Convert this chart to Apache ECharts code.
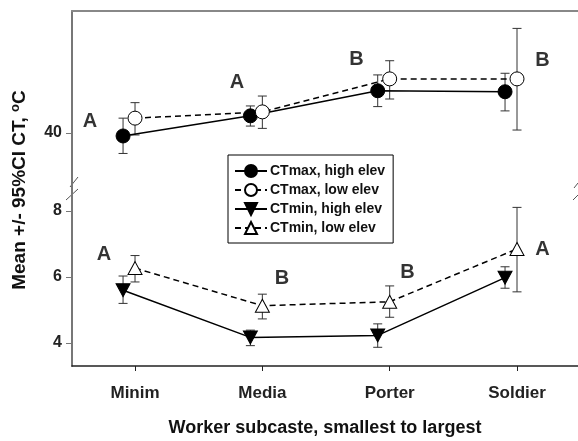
<!DOCTYPE html>
<html><head><meta charset="utf-8">
<script src="https://cdn.jsdelivr.net/npm/echarts@6/dist/echarts.min.js"></script>
<style>html,body{margin:0;padding:0;background:#fff}#c{width:578px;height:441px}</style>
</head><body><div id="c"></div>
<script>
var categories = ['Minim', 'Media', 'Porter', 'Soldier'];
var ctmaxHigh   = [39.91, 40.52, 41.28, 41.25];
var ctmaxHighLo = [39.38, 40.21, 40.80, 40.67];
var ctmaxHighHi = [40.45, 40.82, 41.76, 41.81];
var ctmaxLow    = [40.45, 40.64, 41.64, 41.64];
var ctmaxLowLo  = [39.94, 40.14, 41.03, 40.09];
var ctmaxLowHi  = [40.92, 41.12, 42.19, 43.17];
var ctminHigh   = [5.60, 4.17, 4.23, 5.98];
var ctminHighLo = [5.20, 3.92, 3.87, 5.66];
var ctminHighHi = [6.03, 4.39, 4.58, 6.31];
var ctminLow    = [6.27, 5.13, 5.25, 6.85];
var ctminLowLo  = [5.85, 4.73, 4.78, 5.55];
var ctminLowHi  = [6.65, 5.48, 5.73, 8.11];
var topLetters    = ['A', 'A', 'B', 'B'];
var bottomLetters = ['A', 'B', 'B', 'A'];
var topTicks = [40];
var bottomTicks = [4, 6, 8];

var names = ['CTmax, high elev', 'CTmax, low elev', 'CTmin, high elev', 'CTmin, low elev'];
var HIGH_OFF = -0.094;
var FONT = 'Liberation Sans, Arial, sans-serif';
var downTri = 'path://M0,0 L10,0 L5,9 Z';
var upTri = 'path://M5,0 L10,9 L0,9 Z';

// letter text positions (in data units)
var topLetterPos = [[-0.353, 40.36], [0.80, 41.52], [1.74, 42.24], [3.20, 42.21]];
var bottomLetterPos = [[-0.243, 6.67], [1.155, 5.97], [2.14, 6.15], [3.20, 6.82]];

function pts(vals, off) { return vals.map(function (v, i) { return [i + off, v]; }); }
function bars(lo, hi, off) { return lo.map(function (l, i) { return [i + off, l, hi[i]]; }); }

function errRender(params, api) {
  var x = api.value(0);
  var p1 = api.coord([x, api.value(1)]);
  var p2 = api.coord([x, api.value(2)]);
  var w = 4.5;
  var st = { stroke: '#333', lineWidth: 1, fill: null };
  return { type: 'group', children: [
    { type: 'line', shape: { x1: p1[0], y1: p1[1], x2: p2[0], y2: p2[1] }, style: st },
    { type: 'line', shape: { x1: p1[0] - w, y1: p1[1], x2: p1[0] + w, y2: p1[1] }, style: st },
    { type: 'line', shape: { x1: p2[0] - w, y1: p2[1], x2: p2[0] + w, y2: p2[1] }, style: st }
  ]};
}

function errSeries(lo, hi, off, gi) {
  return { type: 'custom', xAxisIndex: gi, yAxisIndex: gi, renderItem: errRender,
    data: bars(lo, hi, off), z: 2, silent: true, encode: { x: 0, y: [1, 2] } };
}

function lineSeries(name, vals, off, gi, symbol, size, filled, dashed) {
  return { type: 'line', name: name, xAxisIndex: gi, yAxisIndex: gi, data: pts(vals, off),
    symbol: symbol, symbolSize: size, showSymbol: true, z: 3,
    lineStyle: { color: '#000', width: 1.5, type: dashed ? [6, 4] : 'solid' },
    itemStyle: { color: filled ? '#000' : '#fff', borderColor: '#000', borderWidth: 1, opacity: 1 },
    emphasis: { disabled: true }, animation: false };
}

function letterSeries(letters, pos, gi) {
  return { type: 'scatter', xAxisIndex: gi, yAxisIndex: gi, symbolSize: 0, silent: true,
    data: letters.map(function (t, i) { return { value: pos[i], name: t }; }),
    label: { show: true, position: 'inside', formatter: '{b}', color: '#000',
      fontFamily: FONT, fontWeight: 'bold', fontSize: 20 } };
}

var xMin = -0.495, xMax = 3.479;
var axisGray = '#777';

var chart = echarts.init(document.getElementById('c'), null, { renderer: 'canvas' });
chart.setOption({
  backgroundColor: '#fff',
  animation: false,
  grid: [
    { left: 72, right: 0, top: 11, height: 175 },
    { left: 72, right: 0, top: 186, height: 180 }
  ],
  xAxis: [
    { type: 'value', gridIndex: 0, min: xMin, max: xMax, position: 'top',
      axisLine: { show: true, onZero: false, lineStyle: { color: '#888', width: 2 } },
      axisTick: { show: false }, axisLabel: { show: false }, splitLine: { show: false } },
    { type: 'value', gridIndex: 1, min: xMin, max: xMax, position: 'bottom',
      axisLine: { show: true, onZero: false, lineStyle: { color: '#222', width: 1.5 } },
      axisTick: { show: true, customValues: [0, 1, 2, 3], length: 5, lineStyle: { color: '#222' } },
      axisLabel: { show: true, customValues: [0, 1, 2, 3], margin: 19,
        formatter: function (v) { return categories[Math.round(v)]; },
        color: '#222', fontFamily: FONT, fontWeight: 'bold', fontSize: 17 },
      splitLine: { show: false },
      name: 'Worker subcaste, smallest to largest', nameLocation: 'middle', nameGap: 53,
      nameTextStyle: { color: '#111', fontFamily: FONT, fontWeight: 'bold', fontSize: 18 } }
  ],
  yAxis: [
    { type: 'value', gridIndex: 0, min: 38.394, max: 43.697,
      axisLine: { show: true, onZero: false, lineStyle: { color: axisGray, width: 2 } },
      axisTick: { show: true, customValues: topTicks, length: 6, lineStyle: { color: axisGray } },
      axisLabel: { show: true, customValues: topTicks, margin: 10, color: '#222',
        fontFamily: FONT, fontWeight: 'bold', fontSize: 16 },
      splitLine: { show: false } },
    { type: 'value', gridIndex: 1, min: 3.303, max: 8.758,
      axisLine: { show: true, onZero: false, lineStyle: { color: axisGray, width: 2 } },
      axisTick: { show: true, customValues: bottomTicks, length: 6, lineStyle: { color: axisGray } },
      axisLabel: { show: true, customValues: bottomTicks, margin: 10, color: '#222',
        fontFamily: FONT, fontWeight: 'bold', fontSize: 16 },
      splitLine: { show: false } }
  ],
  legend: {
    left: 228, top: 155, orient: 'vertical', padding: [9, 8, 8, 6], itemGap: 5,
    itemWidth: 32, itemHeight: 15, borderColor: '#000', borderWidth: 1, backgroundColor: '#fff',
    data: names, selectedMode: false, z: 10,
    textStyle: { color: '#111', fontFamily: FONT, fontWeight: 'bold', fontSize: 14, padding: [0, 0, 0, -2] }
  },
  graphic: [
    { type: 'text', x: 20, y: 190, rotation: Math.PI / 2, z: 10,
      style: { text: 'Mean +/- 95%CI CT, {sup|o}C', fill: '#111', fontFamily: FONT,
        fontWeight: 'bold', fontSize: 19, align: 'center', verticalAlign: 'middle',
        rich: { sup: { fontSize: 13, fontWeight: 'bold', fontFamily: FONT, fill: '#111', padding: [0, 0, 10, 0] } } } },
    { type: 'line', shape: { x1: 70, y1: 187, x2: 78, y2: 177 }, style: { stroke: '#555', lineWidth: 1 } },
    { type: 'line', shape: { x1: 66, y1: 200, x2: 78, y2: 189 }, style: { stroke: '#555', lineWidth: 1 } },
    { type: 'line', shape: { x1: 574, y1: 188, x2: 578, y2: 183 }, style: { stroke: '#555', lineWidth: 1 } },
    { type: 'line', shape: { x1: 573, y1: 200, x2: 578, y2: 195 }, style: { stroke: '#555', lineWidth: 1 } }
  ],
  series: [
    lineSeries(names[0], ctmaxHigh, HIGH_OFF, 0, 'circle', 14, true, false),
    lineSeries(names[1], ctmaxLow, 0, 0, 'circle', 14, false, true),
    lineSeries(names[2], ctminHigh, HIGH_OFF, 1, downTri, [14, 13], true, false),
    lineSeries(names[3], ctminLow, 0, 1, upTri, [14, 13], false, true),
    errSeries(ctmaxHighLo, ctmaxHighHi, HIGH_OFF, 0),
    errSeries(ctmaxLowLo, ctmaxLowHi, 0, 0),
    errSeries(ctminHighLo, ctminHighHi, HIGH_OFF, 1),
    errSeries(ctminLowLo, ctminLowHi, 0, 1),
    letterSeries(topLetters, topLetterPos, 0),
    letterSeries(bottomLetters, bottomLetterPos, 1)
  ]
});
</script></body></html>
